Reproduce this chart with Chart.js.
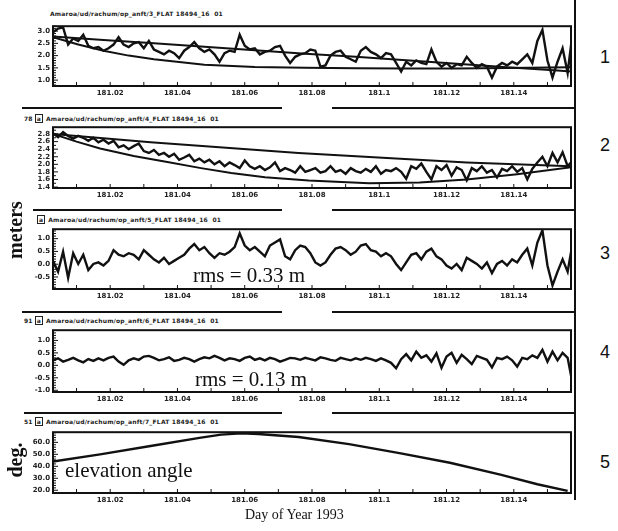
<!DOCTYPE html>
<html lang="en">
<head>
<meta charset="UTF-8">
<title>Day of Year 1993</title>
<script src="https://cdn.jsdelivr.net/npm/chart.js"></script>
<style>
  body { margin: 0; width: 618px; height: 531px; background: #fff; position: relative; overflow: hidden; }
  canvas { position: absolute; left: 0; }
  .rule { position: absolute; height: 2px; background: #111; }
  .hdr { position: absolute; font: bold 6px "DejaVu Sans", sans-serif; color: #222; white-space: nowrap; letter-spacing: 0.2px; }
  .tag { display: inline-block; border: 1px solid #222; padding: 0 1px; margin: 0 3px 0 2px; }
  .num { position: absolute; left: 600px; font: 18px "Liberation Sans", sans-serif; color: #111; line-height: 1; }
  .note { position: absolute; font-family: "Liberation Serif", serif; color: #111; white-space: nowrap; line-height: 1; }
  .vlab { position: absolute; font: bold 20px "Liberation Serif", serif; color: #111; text-align: center; line-height: 1; transform: rotate(-90deg); }
</style>
</head>
<body>

<div class="rule" style="left:574px; top:0; width:2px; height:500px"></div>
<div class="rule" style="left:22px; top:107px; width:260px"></div>
<div class="rule" style="left:332px; top:107px; width:243px"></div>
<div class="rule" style="left:33px; top:209px; width:249px"></div>
<div class="rule" style="left:332px; top:209px; width:243px"></div>
<div class="rule" style="left:22px; top:311px; width:260px"></div>
<div class="rule" style="left:332px; top:311px; width:243px"></div>
<div class="rule" style="left:24px; top:412px; width:258px"></div>
<div class="rule" style="left:332px; top:412px; width:243px"></div>

<div class="hdr" style="left:50px; top:10px">Amaroa/ud/rachum/op_anft/3_FLAT 18494_16&nbsp;&nbsp;01</div>
<div class="hdr" style="left:24px; top:114px">78<span class="tag">a</span>Amaroa/ud/rachum/op_anft/4_FLAT 18494_16&nbsp;&nbsp;01</div>
<div class="hdr" style="left:35px; top:215px"><span class="tag">a</span>Amaroa/ud/rachum/op_anft/5_FLAT 18494_16&nbsp;&nbsp;01</div>
<div class="hdr" style="left:24px; top:316px">91<span class="tag">a</span>Amaroa/ud/rachum/op_anft/6_FLAT 18494_16&nbsp;&nbsp;01</div>
<div class="hdr" style="left:24px; top:417px">51<span class="tag">a</span>Amaroa/ud/rachum/op_anft/7_FLAT 18494_16&nbsp;&nbsp;01</div>

<canvas id="p1"></canvas>
<canvas id="p2"></canvas>
<canvas id="p3"></canvas>
<canvas id="p4"></canvas>
<canvas id="p5"></canvas>

<div class="num" style="top:48px">1</div>
<div class="num" style="top:136px">2</div>
<div class="num" style="top:244px">3</div>
<div class="num" style="top:343px">4</div>
<div class="num" style="top:453px">5</div>

<div class="vlab" style="left:-25px; top:220px; width:80px">meters</div>
<div class="vlab" style="left:-5px; top:450px; width:40px">deg.</div>

<div class="note" style="left:193px; top:265px; font-size:21px">rms = 0.33 m</div>
<div class="note" style="left:195px; top:369px; font-size:21px">rms = 0.13 m</div>
<div class="note" style="left:65px; top:460px; font-size:21px">elevation angle</div>
<div class="note" style="left:245px; top:508px; font-size:14px">Day of Year 1993</div>

<script>
// time axis (day of year) and sampling of the measured series
const xMin = 181.003, xMax = 181.157;
const t0 = 181.003, dt = 0.0015;

// panel 1: measured height (m) and the two fitted curves
const height1 = [2.95, 3.1, 3.15, 2.45, 2.7, 2.6, 2.85, 2.4, 2.3, 2.35,
  2.2, 2.3, 2.45, 2.75, 2.45, 2.35, 2.5, 2.55, 2.3, 2.6,
  2.25, 2.15, 2.05, 2.2, 2.1, 1.9, 2.2, 2.35, 2.55, 2.3,
  2.15, 2.25, 2.05, 1.75, 2.1, 2.2, 2.15, 2.85, 2.4, 2.25,
  2.3, 2.05, 2.15, 2.2, 2.35, 2.4, 2.0, 1.7, 1.95, 2.05,
  2.1, 2.25, 2.2, 1.55, 1.6, 2.0, 2.15, 2.2, 1.95, 1.85,
  1.75, 2.2, 2.35, 2.15, 2.05, 1.9, 2.1, 2.05, 1.7, 1.35,
  1.75, 1.6, 1.8, 1.7, 1.65, 2.25, 1.75, 1.55, 1.7, 1.5,
  1.65, 1.6, 1.95, 1.7, 1.5, 1.65, 1.55, 1.1, 1.55, 1.7,
  1.6, 1.75, 1.65, 1.85, 2.05, 1.7, 2.6, 3.05, 1.8, 1.1,
  1.75, 2.3, 1.3, 2.95];
const fit1UpperT = [181.003, 181.018, 181.033, 181.048, 181.063, 181.078, 181.093, 181.108, 181.123, 181.138, 181.153, 181.157];
const fit1Upper = [2.78, 2.64, 2.5, 2.36, 2.22, 2.08, 1.95, 1.81, 1.67, 1.53, 1.39, 1.35];
const fit1LowerT = [181.003, 181.0105, 181.018, 181.0255, 181.033, 181.048, 181.063, 181.078, 181.093, 181.108, 181.123, 181.138, 181.157];
const fit1Lower = [2.75, 2.45, 2.2, 2.0, 1.85, 1.63, 1.54, 1.5, 1.48, 1.47, 1.47, 1.49, 1.52];

// panel 2
const height2 = [2.82, 2.72, 2.85, 2.75, 2.68, 2.75, 2.7, 2.62, 2.7, 2.58,
  2.65, 2.55, 2.62, 2.45, 2.5, 2.4, 2.48, 2.55, 2.35, 2.3,
  2.38, 2.25, 2.3, 2.2, 2.28, 2.12, 2.18, 2.25, 2.08, 2.15,
  2.05, 2.12, 2.0, 2.08, 1.95, 2.05, 1.98, 1.9, 2.1, 1.95,
  1.88, 1.95, 1.85, 1.92, 2.05, 1.82, 1.9, 1.85, 1.78, 1.95,
  1.8, 1.85, 1.9, 1.78, 1.82, 1.95, 1.8, 1.85, 1.75, 1.9,
  1.82, 1.78, 1.88, 1.8, 1.95, 1.75, 1.85, 1.82, 1.9, 1.8,
  1.62, 1.95, 1.88, 2.02, 1.8, 1.6, 1.95, 1.85, 1.98, 1.7,
  1.92, 1.85, 1.58, 1.9, 1.82, 1.95, 1.78, 1.85, 1.65, 1.88,
  1.82, 1.95, 1.8, 1.9, 1.6, 1.88, 2.05, 2.2, 1.95, 2.3,
  2.05, 2.32, 1.95, 2.1];
const fit2UpperT = [181.003, 181.032, 181.076, 181.126, 181.157];
const fit2Upper = [2.8, 2.58, 2.3, 2.05, 1.95];
const fit2LowerT = [181.003, 181.01, 181.017, 181.027, 181.037, 181.047, 181.056, 181.066, 181.079, 181.097, 181.112, 181.126, 181.141, 181.157];
const fit2Lower = [2.8, 2.6, 2.42, 2.22, 2.06, 1.9, 1.77, 1.66, 1.57, 1.5, 1.52, 1.6, 1.74, 1.92];

// panel 3: residual, rms 0.33 m
const resid3 = [0.13, -0.29, 0.49, -0.53, 0.43, 0.01, 0.37, -0.23, 0.01, 0.07,
  -0.05, 0.13, 0.55, 0.37, 0.31, 0.43, 0.37, 0.19, 0.55, 0.37,
  0.19, 0.07, 0.25, 0.01, 0.13, 0.25, 0.37, 0.61, 0.79, 0.55,
  0.67, 0.43, 0.25, 0.43, 0.37, 0.49, 0.67, 1.21, 0.73, 0.55,
  0.67, 0.49, 0.31, 0.73, 0.85, 0.97, 0.31, 0.19, 0.55, 0.73,
  0.67, 0.43, 0.07, -0.05, 0.07, 0.37, 0.61, 0.67, 0.55, 0.37,
  0.49, 0.73, 0.79, 0.55, 0.49, 0.31, 0.43, 0.31, 0.01, -0.23,
  0.07, 0.37, 0.43, 0.19, 0.49, 0.61, 0.31, 0.19, -0.05, -0.17,
  0.01, -0.23, 0.25, 0.13, 0.01, -0.17, 0.07, -0.35, 0.01, 0.13,
  -0.05, 0.19, 0.07, 0.37, 0.61, -0.05, 0.85, 1.33, -0.05, -0.83,
  -0.29, 0.19, -0.29, 0.85];

// panel 4: residual, rms 0.13 m
const resid4 = [0.2, 0.28, 0.15, 0.22, 0.3, 0.2, 0.12, 0.25, 0.18, 0.28,
  0.2, 0.3, 0.35, 0.15, 0.02, 0.2, 0.28, 0.22, 0.35, 0.38,
  0.3, 0.2, 0.25, 0.32, 0.18, 0.22, 0.3, 0.25, 0.15, 0.25,
  0.32, 0.28, 0.38, 0.3, 0.2, 0.28, 0.25, 0.18, 0.3, 0.35,
  0.22, 0.28, 0.2, 0.3, 0.25, 0.15, 0.22, 0.3, 0.28, 0.22,
  0.3, 0.25, 0.2, 0.32, 0.28, 0.22, 0.18, 0.3, 0.25, 0.2,
  0.28, 0.22, 0.3, 0.25, 0.18, 0.28, 0.2, 0.1, -0.12, 0.25,
  0.45, 0.2, 0.55, 0.3, 0.4, 0.15, 0.48, -0.1, 0.35, 0.5,
  0.1, 0.42, 0.25, 0.05, 0.38, 0.3, 0.22, -0.08, 0.3, 0.25,
  0.35, 0.2, -0.05, 0.3, 0.25, 0.4, 0.3, 0.62, 0.15, 0.55,
  0.2, 0.5, 0.3, -0.75];

// panel 5: satellite elevation angle (deg)
const elevT = [181.003, 181.017, 181.032, 181.047, 181.053, 181.059, 181.064, 181.076, 181.091, 181.106, 181.121, 181.136, 181.147, 181.156];
const elev = [44, 50, 57, 64, 66.5, 67.5, 67, 64.5, 58.5, 51, 43, 33, 25, 19.5];

const sampled = vals => vals.map((v, i) => ({ x: t0 + i * dt, y: v }));
const paired = (ts, vals) => vals.map((v, i) => ({ x: ts[i], y: v }));
const onStep = (v, s) => Math.abs(v / s - Math.round(v / s)) < 1e-4;
const tickFont = { family: 'DejaVu Sans', size: 7, weight: 'bold' };

// box round the plot area, with the tick marks pointing inwards
const frame = {
  id: 'frame',
  afterDraw(chart) {
    const { ctx, chartArea: a, scales: { x, y } } = chart;
    const yStep = chart.options.scales.y.ticks.stepSize;
    ctx.save();
    ctx.strokeStyle = '#111';
    ctx.lineWidth = 1;
    ctx.beginPath();
    x.ticks.forEach(t => {
      if (!onStep(t.value, 0.01)) return;
      const px = x.getPixelForValue(t.value);
      ctx.moveTo(px, a.bottom);
      ctx.lineTo(px, a.bottom - 4);
    });
    y.ticks.forEach(t => {
      if (!onStep(t.value, yStep)) return;
      const py = y.getPixelForValue(t.value);
      ctx.moveTo(a.left, py);
      ctx.lineTo(a.left + (t.label ? 5 : 3), py);
    });
    ctx.stroke();
    ctx.lineWidth = 2;
    ctx.strokeRect(a.left, a.top, a.right - a.left, a.bottom - a.top);
    ctx.restore();
  }
};

function panel(id, top, h, yMin, yMax, yStep, labelStep, sets) {
  const cv = document.getElementById(id);
  cv.width = 573;
  cv.height = h + 18;
  cv.style.top = (top - 2) + 'px';
  new Chart(cv, {
    type: 'line',
    data: {
      // first set is the measured series (drawn heavier), the rest are fitted curves
      datasets: sets.map((d, i) => ({
        data: d, borderColor: '#111', borderWidth: i === 0 ? 2.4 : 2, pointRadius: 0, fill: false, tension: 0
      }))
    },
    options: {
      responsive: false,
      animation: false,
      events: [],
      layout: { autoPadding: false, padding: { top: 2, right: 2, left: 0, bottom: 0 } },
      plugins: { legend: { display: false }, tooltip: { enabled: false } },
      scales: {
        x: {
          type: 'linear', min: xMin, max: xMax,
          grid: { display: false, drawTicks: false, tickLength: 0 }, border: { display: false },
          afterFit: s => { s.height = 16; },
          ticks: {
            stepSize: 0.01, padding: 3, autoSkip: false, maxRotation: 0, includeBounds: false,
            font: tickFont, color: '#222',
            callback: v => onStep(v, 0.02) ? String(+v.toFixed(2)) : ''
          }
        },
        y: {
          min: yMin, max: yMax,
          grid: { display: false, drawTicks: false, tickLength: 0 }, border: { display: false },
          afterFit: s => { s.width = 53; },
          ticks: {
            stepSize: yStep, padding: 3, autoSkip: false, includeBounds: false,
            font: tickFont, color: '#222',
            callback: v => onStep(v, labelStep) ? (Math.round(v * 10) / 10 + 0).toFixed(1) : ''
          }
        }
      }
    },
    plugins: [frame]
  });
}

panel('p1', 21, 65, 0.76, 3.2, 0.1, 0.5,
  [sampled(height1), paired(fit1UpperT, fit1Upper), paired(fit1LowerT, fit1Lower)]);
panel('p2', 122, 66, 1.375, 2.98, 0.1, 0.2,
  [sampled(height2), paired(fit2UpperT, fit2Upper), paired(fit2LowerT, fit2Lower)]);
panel('p3', 224, 65, -0.97, 1.37, 0.1, 0.5, [sampled(resid3)]);
panel('p4', 325, 67, -1.07, 1.41, 0.1, 0.5, [sampled(resid4)]);
panel('p5', 427, 66, 17.7, 68.5, 2, 10, [paired(elevT, elev)]);
</script>
</body>
</html>
